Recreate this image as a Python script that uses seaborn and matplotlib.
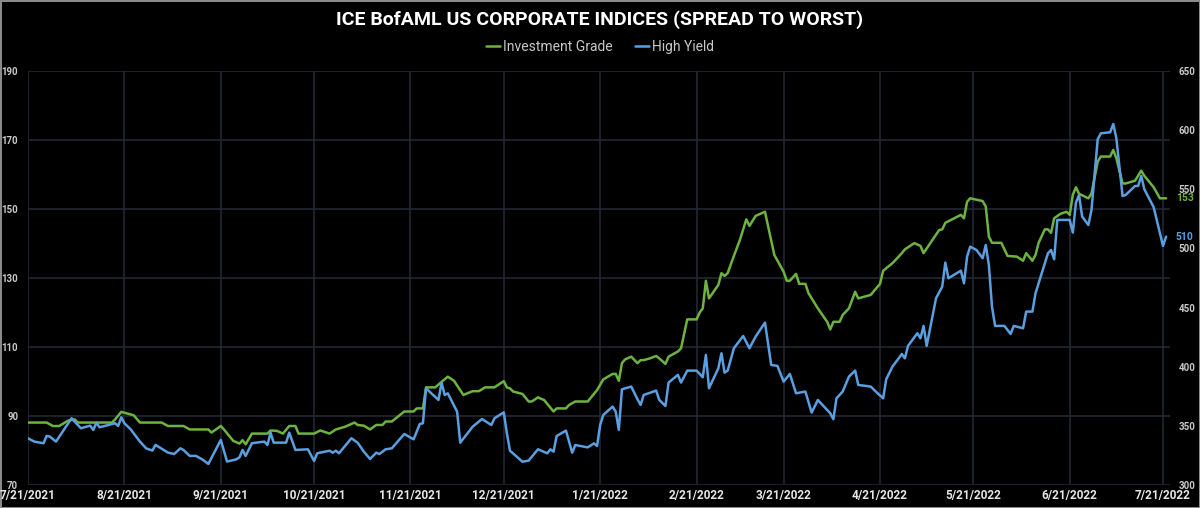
import matplotlib
matplotlib.use("Agg")
import matplotlib.pyplot as plt
import pandas as pd
import seaborn as sns


START = "2021-07-21"
TITLE = "ICE BofAML US CORPORATE INDICES (SPREAD TO WORST)"
SERIES_NAMES = ("Investment Grade", "High Yield")

# days after START, spread in bp
IG_DAY = [0, 6, 8, 10, 13, 15, 16, 27, 28, 30, 34, 36, 43, 45, 50, 52, 58, 59, 62, 63,
          66, 68, 69, 70, 72, 77, 78, 80, 82, 84, 86, 87, 92, 94, 97, 99, 102, 105, 106, 108,
          110, 112, 114, 115, 117, 121, 124, 125, 127, 128, 131, 133, 135, 137, 140, 143, 145, 147, 150, 153,
          154, 155, 156, 159, 161, 162, 164, 166, 167, 169, 170, 173, 174, 176, 180, 183, 185, 188, 189, 190,
          191, 192, 194, 196, 197, 198, 200, 202, 203, 205, 206, 209, 210, 212, 215, 216, 217, 218, 219, 222,
          223, 224, 225, 227, 229, 231, 232, 234, 237, 240, 243, 244, 245, 247, 248, 250, 251, 254, 256, 257,
          258, 259, 261, 262, 264, 266, 267, 271, 274, 275, 278, 280, 281, 282, 285, 287, 288, 293, 294, 295,
          300, 301, 302, 303, 307, 308, 309, 310, 313, 315, 318, 320, 321, 323, 324, 325, 327, 328, 329, 330,
          332, 334, 335, 336, 337, 338, 341, 342, 344, 345, 348, 349, 350, 352, 353, 356, 358, 359, 362, 364,
          366]
IG_SPREAD = [88.1, 88.1, 87.1, 87.1, 88.7, 89.0, 88.1, 88.1, 89.0, 91.2, 90.2, 88.1, 88.1, 87.1, 87.1, 86.1, 86.1, 85.2, 87.1, 86.1,
             82.8, 82.0, 83.0, 81.8, 84.9, 84.9, 85.8, 85.7, 84.9, 87.1, 87.1, 84.9, 84.9, 85.8, 84.9, 86.1, 86.9, 88.1, 87.4, 87.2,
             86.1, 87.4, 87.4, 88.4, 88.4, 91.3, 91.3, 92.2, 92.2, 98.3, 98.3, 99.9, 101.4, 100.2, 96.1, 97.2, 97.2, 98.3, 98.3, 100.1,
             98.3, 98.0, 97.1, 96.4, 94.2, 94.2, 95.4, 94.6, 93.5, 91.3, 92.2, 92.2, 93.2, 94.2, 94.2, 97.5, 100.6, 102.2, 102.2, 100.2,
             105.3, 106.4, 107.2, 105.3, 106.2, 106.2, 106.7, 107.4, 106.7, 105.1, 107.2, 108.7, 109.6, 118.0, 118.0, 120.0, 121.2, 129.2, 124.1, 128.0,
             131.4, 130.6, 131.4, 136.4, 141.2, 147.0, 145.1, 148.0, 149.2, 136.7, 131.8, 129.2, 129.2, 131.2, 128.3, 128.3, 125.6, 121.2, 118.6, 117.3,
             115.1, 117.3, 117.3, 119.3, 121.2, 126.0, 124.1, 125.1, 128.3, 132.1, 134.3, 136.2, 137.2, 138.3, 140.1, 139.3, 137.2, 143.9, 144.1, 146.0,
             148.3, 147.3, 152.1, 153.1, 152.3, 150.7, 142.0, 140.2, 140.2, 136.4, 136.2, 135.0, 137.2, 135.0, 136.7, 140.2, 144.1, 144.1, 143.1, 147.3,
             148.6, 149.2, 148.3, 154.1, 156.3, 154.4, 153.1, 154.5, 163.7, 165.2, 165.2, 167.1, 164.7, 157.4, 157.4, 158.2, 161.1, 159.6, 156.3, 153.1,
             153.1]

HY_DAY = [0, 2, 5, 6, 7, 9, 14, 17, 20, 21, 22, 23, 28, 29, 30, 31, 33, 36, 38, 40,
          41, 45, 47, 49, 50, 52, 54, 56, 58, 62, 64, 67, 68, 69, 70, 72, 76, 77, 78, 79,
          83, 84, 86, 90, 92, 93, 97, 98, 99, 100, 104, 106, 108, 110, 112, 113, 115, 117, 121, 124,
          126, 127, 128, 132, 133, 134, 135, 138, 139, 143, 146, 149, 150, 153, 154, 155, 159, 161, 164, 167,
          168, 169, 170, 173, 175, 176, 180, 182, 183, 184, 185, 188, 189, 190, 191, 194, 196, 197, 198, 202,
          203, 205, 206, 209, 210, 212, 215, 217, 218, 219, 222, 223, 224, 225, 227, 230, 232, 234, 237, 239,
          241, 243, 245, 247, 250, 252, 254, 258, 259, 260, 262, 264, 266, 267, 271, 273, 275, 276, 278, 280,
          281, 282, 283, 286, 287, 288, 289, 292, 294, 295, 296, 300, 301, 302, 303, 305, 307, 308, 309, 310,
          311, 314, 316, 317, 320, 321, 323, 324, 328, 329, 330, 331, 335, 336, 337, 338, 339, 341, 342, 344,
          345, 348, 349, 350, 352, 353, 356, 357, 358, 359, 362, 365, 366]
HY_SPREAD = [339.5, 336.7, 335.3, 341.5, 340.9, 336.7, 356.4, 348.0, 350.2, 346.5, 352.7, 348.8, 352.2, 349.9, 357.2, 352.2, 347.1, 336.7, 331.0, 329.1,
             333.9, 327.4, 326.2, 331.0, 329.6, 324.6, 324.6, 321.7, 317.8, 338.1, 319.8, 321.7, 323.4, 329.6, 324.6, 335.3, 336.7, 333.9, 344.3, 335.8,
             335.8, 344.3, 329.6, 330.2, 320.3, 326.8, 329.0, 327.3, 329.0, 326.8, 339.5, 335.8, 328.2, 322.0, 327.3, 326.2, 330.2, 331.0, 343.1, 338.6,
             351.6, 352.2, 381.7, 371.9, 386.5, 376.1, 377.5, 362.0, 335.8, 349.3, 355.8, 350.7, 356.4, 361.4, 343.7, 329.0, 319.7, 320.6, 330.2, 326.8,
             330.2, 328.2, 341.4, 346.0, 327.3, 333.8, 331.8, 335.2, 333.0, 350.8, 359.2, 366.3, 362.0, 346.6, 380.9, 383.2, 372.5, 367.7, 376.1, 379.8,
             371.9, 366.8, 386.6, 393.1, 386.6, 396.7, 396.7, 391.1, 410.0, 381.8, 398.7, 411.4, 395.0, 396.7, 415.6, 426.0, 415.6, 425.5, 437.3, 401.5,
             400.7, 387.4, 393.9, 377.5, 379.0, 361.2, 371.9, 360.6, 355.6, 373.3, 379.0, 391.6, 396.7, 384.6, 383.2, 378.1, 373.3, 389.4, 400.1, 407.1,
             410.8, 407.1, 417.6, 428.3, 424.0, 434.5, 417.6, 457.8, 467.7, 488.0, 474.8, 481.2, 470.5, 493.1, 501.5, 498.7, 491.7, 502.9, 486.0, 450.8,
             434.5, 434.5, 427.7, 434.5, 432.5, 446.6, 446.6, 462.1, 495.9, 498.7, 490.8, 524.1, 524.1, 513.4, 538.7, 545.2, 526.9, 519.8, 532.5, 592.3,
             597.3, 598.2, 605.2, 593.1, 544.3, 545.2, 552.8, 552.8, 561.3, 550.0, 534.8, 502.1, 510.0]

IG_TICKS = [70, 90, 110, 130, 150, 170, 190]
HY_TICKS = [300, 350, 400, 450, 500, 550, 600, 650]

IG_COLOR = "#6db33f"
HY_COLOR = "#5a9fe0"
GRID_COLOR = "#252b37"
TICK_COLOR = "#c8c8c8"


def to_frame(days, values):
    dates = pd.Timestamp(START) + pd.to_timedelta(days, unit="D")
    return pd.DataFrame({"date": dates, "spread": values})


def main():
    sns.set_theme(style="dark")
    plt.rcParams["font.family"] = ["Roboto", "DejaVu Sans"]

    ig = to_frame(IG_DAY, IG_SPREAD)
    hy = to_frame(HY_DAY, HY_SPREAD)
    start = pd.Timestamp(START)
    month_ticks = pd.date_range(start, periods=13, freq=pd.DateOffset(months=1))

    fig = plt.figure(figsize=(12, 5.08), dpi=100, facecolor="black")
    fig.patch.set_edgecolor("#8a8a8a")
    fig.patch.set_linewidth(2)
    ax = fig.add_axes([28 / 1200, 23 / 508, 1142 / 1200, 414 / 508])
    ax.set_facecolor("black")
    ax2 = ax.twinx()

    sns.lineplot(data=ig, x="date", y="spread", ax=ax, color=IG_COLOR, linewidth=1.8, legend=False)
    sns.lineplot(data=hy, x="date", y="spread", ax=ax2, color=HY_COLOR, linewidth=1.8, legend=False)

    ax.set_xlim(start, start + pd.Timedelta(days=367.25))
    ax.set_ylim(70, 190)
    ax2.set_ylim(300, 650)
    ax.set_yticks(IG_TICKS)
    ax2.set_yticks(HY_TICKS)
    ax.set_xticks(month_ticks)
    ax.set_xticklabels([f"{d.month}/{d.day}/{d.year}" for d in month_ticks])

    ax.grid(True, color=GRID_COLOR, linewidth=1.1)
    ax2.grid(False)
    for a in (ax, ax2):
        a.set_xlabel("")
        a.set_ylabel("")
        for s in a.spines.values():
            s.set_visible(False)
    ax.tick_params(axis="x", length=0, pad=3, colors="#e6e6e6", labelsize=8.5)
    ax.tick_params(axis="y", length=0, pad=7, colors=TICK_COLOR, labelsize=7)
    ax2.tick_params(axis="y", length=0, pad=6, colors=TICK_COLOR, labelsize=7)
    for lab in ax.get_xticklabels() + ax.get_yticklabels() + ax2.get_yticklabels():
        lab.set_fontweight("bold")

    # last values next to the right axis
    ax.text(1.005, IG_SPREAD[-1], f"{IG_SPREAD[-1]:.0f}", transform=ax.get_yaxis_transform(),
            color=IG_COLOR, fontsize=7.5, fontweight="bold", va="center", ha="left")
    ax2.text(1.005, HY_SPREAD[-1], f"{HY_SPREAD[-1]:.0f}", transform=ax2.get_yaxis_transform(),
             color=HY_COLOR, fontsize=7.5, fontweight="bold", va="center", ha="left")

    fig.text(0.5, 1 - 20 / 508, TITLE, color="white", fontsize=14, fontweight="bold",
             ha="center", va="center")
    fig.legend([ax.lines[0], ax2.lines[0]], SERIES_NAMES, loc="center",
               bbox_to_anchor=(0.5, 1 - 47 / 508), ncol=2, frameon=False,
               handlelength=1.0, handletextpad=0.2, columnspacing=1.6,
               labelcolor=TICK_COLOR, fontsize=10)

    fig.savefig("out.png", dpi=100, facecolor=fig.get_facecolor(), edgecolor=fig.patch.get_edgecolor())
    plt.close(fig)


if __name__ == "__main__":
    main()
